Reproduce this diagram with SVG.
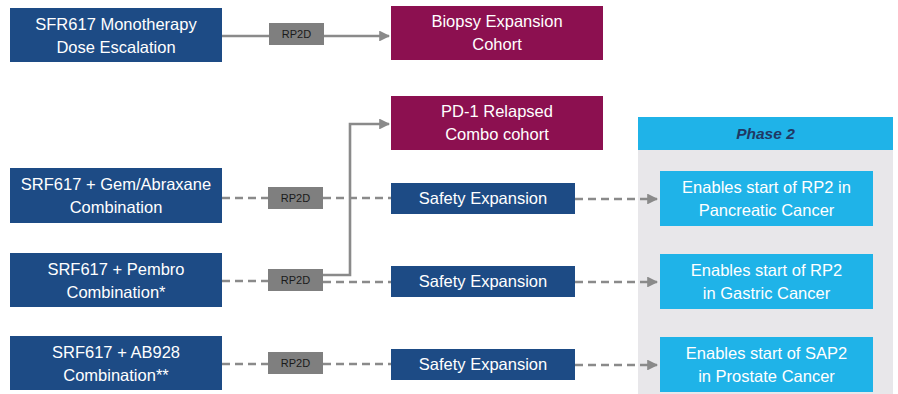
<svg xmlns="http://www.w3.org/2000/svg" width="898" height="394" viewBox="0 0 898 394">
<defs>
<style>
.navy{fill:#1D4B85}
.maroon{fill:#8C1050}
.lblue{fill:#1FB3E8}
.rp{fill:#7F7F7F}
.t{font-family:"Liberation Sans",Arial,sans-serif;font-size:16.5px;fill:#FFFFFF;text-anchor:middle}
.rpt{font-family:"Liberation Sans",Arial,sans-serif;font-size:11px;fill:#1A1A1A;text-anchor:middle}
.ln{fill:none;stroke:#8A8A8A;stroke-width:2.6}
.dash{stroke-dasharray:8 5}
</style>
<marker id="ah" viewBox="0 0 10 10" refX="9" refY="5" markerWidth="4.2" markerHeight="4.2" orient="auto" markerUnits="strokeWidth">
<path d="M0,0 L10,5 L0,10 z" fill="#8A8A8A"/>
</marker>
</defs>
<rect width="898" height="394" fill="#FFFFFF"/>
<g id="phase2-panel">
<rect x="638" y="150" width="255" height="244" fill="#E8E7EA"/>
<rect x="638" y="117" width="255" height="33" fill="#1FB3E8"/>
<text x="765.5" y="139" font-family="Liberation Sans, Arial, sans-serif" font-size="15.5" font-weight="bold" font-style="italic" fill="#1F3864" text-anchor="middle">Phase 2</text>
</g>
<g id="connectors">
<line class="ln" x1="222" y1="36" x2="389" y2="36" marker-end="url(#ah)"/>
<path class="ln" d="M323,275 H350 V124 H389" marker-end="url(#ah)"/>
<line class="ln dash" x1="222" y1="198" x2="268" y2="198"/>
<line class="ln dash" x1="323" y1="198" x2="391" y2="198"/>
<line class="ln dash" x1="575" y1="199" x2="657" y2="199" marker-end="url(#ah)"/>
<line class="ln dash" x1="222" y1="281" x2="268" y2="281"/>
<line class="ln dash" x1="323" y1="282" x2="391" y2="282"/>
<line class="ln dash" x1="575" y1="282" x2="657" y2="282" marker-end="url(#ah)"/>
<line class="ln dash" x1="222" y1="364" x2="268" y2="364"/>
<line class="ln dash" x1="323" y1="364" x2="391" y2="364"/>
<line class="ln dash" x1="575" y1="365" x2="657" y2="365" marker-end="url(#ah)"/>
</g>
<g id="rp2d-1"><rect class="rp" x="269" y="23" width="55" height="22"/><text class="rpt" x="296.5" y="38">RP2D</text></g>
<g id="rp2d-2"><rect class="rp" x="268" y="187" width="55" height="22"/><text class="rpt" x="295.5" y="202">RP2D</text></g>
<g id="rp2d-3"><rect class="rp" x="268" y="269" width="55" height="22"/><text class="rpt" x="295.5" y="284">RP2D</text></g>
<g id="rp2d-4"><rect class="rp" x="268" y="352" width="55" height="22"/><text class="rpt" x="295.5" y="367">RP2D</text></g>
<g id="mono"><rect class="navy" x="10" y="8" width="212" height="54"/><text class="t" x="116" y="30">SFR617 Monotherapy</text><text class="t" x="116" y="53">Dose Escalation</text></g>
<g id="biopsy"><rect class="maroon" x="391" y="6" width="212" height="54"/><text class="t" x="497" y="27">Biopsy Expansion</text><text class="t" x="497" y="50">Cohort</text></g>
<g id="pd1"><rect class="maroon" x="391" y="96" width="212" height="54"/><text class="t" x="497" y="117">PD-1 Relapsed</text><text class="t" x="497" y="140">Combo cohort</text></g>
<g id="gem"><rect class="navy" x="10" y="168" width="212" height="55"/><text class="t" x="116" y="190">SRF617 + Gem/Abraxane</text><text class="t" x="116" y="213">Combination</text></g>
<g id="pembro"><rect class="navy" x="10" y="253" width="212" height="54"/><text class="t" x="116" y="275">SRF617 + Pembro</text><text class="t" x="116" y="298">Combination*</text></g>
<g id="ab928"><rect class="navy" x="10" y="336" width="212" height="54"/><text class="t" x="116" y="358">SRF617 + AB928</text><text class="t" x="116" y="381">Combination**</text></g>
<g id="safety-1"><rect class="navy" x="391" y="183" width="184" height="31"/><text class="t" x="483" y="204">Safety Expansion</text></g>
<g id="safety-2"><rect class="navy" x="391" y="266" width="184" height="31"/><text class="t" x="483" y="287">Safety Expansion</text></g>
<g id="safety-3"><rect class="navy" x="391" y="349" width="184" height="31"/><text class="t" x="483" y="370">Safety Expansion</text></g>
<g id="pancreatic"><rect class="lblue" x="660" y="171" width="213" height="55"/><text class="t" x="766.5" y="193">Enables start of RP2 in</text><text class="t" x="766.5" y="216">Pancreatic Cancer</text></g>
<g id="gastric"><rect class="lblue" x="660" y="254" width="213" height="55"/><text class="t" x="766.5" y="276">Enables start of RP2</text><text class="t" x="766.5" y="299">in Gastric Cancer</text></g>
<g id="prostate"><rect class="lblue" x="660" y="337" width="213" height="55"/><text class="t" x="766.5" y="359">Enables start of SAP2</text><text class="t" x="766.5" y="382">in Prostate Cancer</text></g>
</svg>
